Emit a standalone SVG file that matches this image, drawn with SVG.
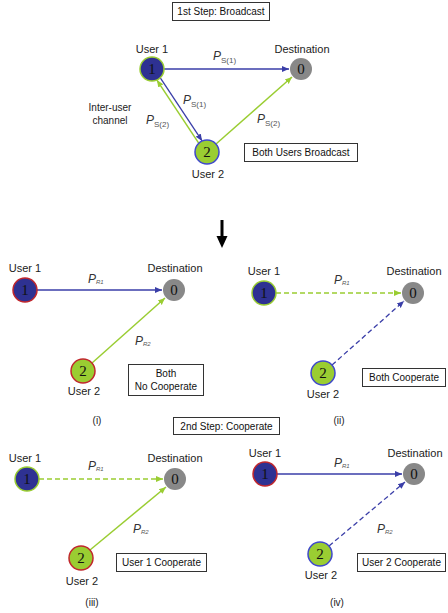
<svg xmlns="http://www.w3.org/2000/svg" width="448" height="613" viewBox="0 0 448 613">
<defs>
<style>
.lbl{font-family:"Liberation Sans",Arial,sans-serif;font-size:11px;fill:#222;text-anchor:middle}
.box{fill:#fff;stroke:#333;stroke-width:1}
.btxt{font-family:"Liberation Sans",Arial,sans-serif;font-size:10px;fill:#111;text-anchor:middle}
.num{font-family:"Liberation Serif","Times New Roman",serif;font-size:15px;fill:#111;text-anchor:middle}
.p{font-family:"Liberation Sans",Arial,sans-serif;font-size:12px;font-style:italic;fill:#333}
.s{font-size:8px;font-style:normal;fill:#555}
.r{font-size:6px;font-style:italic;fill:#555}
.ub{fill:#2e3192}
.ug{fill:#9acd32}
.dst{fill:#888}
.sr{stroke:#c1272d;stroke-width:1.5}
.sg{stroke:#9acd32;stroke-width:1.5}
.sb{stroke:#3f48cc;stroke-width:1.5}
.lb{stroke:#3a3ea8;stroke-width:1.3;fill:none}
.lg{stroke:#9acd32;stroke-width:1.5;fill:none}
.dash{stroke-dasharray:5,3}
</style>
<marker id="ab" viewBox="0 0 8 8" refX="7" refY="4" markerWidth="8" markerHeight="8" markerUnits="userSpaceOnUse" orient="auto"><path d="M0,1 L7,4 L0,7 Z" fill="#3a3ea8"/></marker>
<marker id="ag" viewBox="0 0 8 8" refX="7" refY="4" markerWidth="8" markerHeight="8" markerUnits="userSpaceOnUse" orient="auto"><path d="M0,1 L7,4 L0,7 Z" fill="#9acd32"/></marker>
</defs>
<rect width="448" height="613" fill="#fff"/>

<g id="connectors">
<!-- top -->
<line class="lb" x1="164" y1="69" x2="289" y2="69" marker-end="url(#ab)"/>
<line class="lb" x1="160.3" y1="77.9" x2="202.1" y2="140.9" marker-end="url(#ab)"/>
<line class="lg" x1="198.7" y1="143.1" x2="156.9" y2="80.1" marker-end="url(#ag)"/>
<line class="lg" x1="216" y1="144" x2="292" y2="77" marker-end="url(#ag)"/>
<!-- (i) -->
<line class="lb" x1="37" y1="290" x2="162" y2="290" marker-end="url(#ab)"/>
<line class="lg" x1="92" y1="363" x2="165" y2="298" marker-end="url(#ag)"/>
<!-- (ii) -->
<line class="lg dash" x1="276" y1="293" x2="401" y2="293" marker-end="url(#ag)"/>
<line class="lb dash" x1="332" y1="365" x2="404" y2="301" marker-end="url(#ab)"/>
<!-- (iii) -->
<line class="lg dash" x1="39" y1="479" x2="163" y2="479" marker-end="url(#ag)"/>
<line class="lg" x1="90" y1="550" x2="166" y2="487" marker-end="url(#ag)"/>
<!-- (iv) -->
<line class="lb" x1="277" y1="474" x2="402" y2="474" marker-end="url(#ab)"/>
<line class="lb dash" x1="329" y1="546" x2="405" y2="482" marker-end="url(#ab)"/>
<!-- big arrow -->
<rect x="220.5" y="220" width="3" height="17" fill="#000"/>
<path d="M216.5,236 L227.5,236 L222,248 Z" fill="#000"/>
</g>

<g id="title1"><rect class="box" x="172.5" y="2.5" width="97" height="18"/><text class="btxt" x="221" y="15">1st Step: Broadcast</text></g>
<g id="title2"><rect class="box" x="173.5" y="417.5" width="106" height="17"/><text class="btxt" x="226.5" y="429.5">2nd Step: Cooperate</text></g>

<!-- top nodes -->
<g id="t-u1"><circle class="ub sg" cx="152" cy="69" r="12"/><text class="num" x="152" y="74">1</text><text class="lbl" x="152" y="53">User 1</text></g>
<g id="t-d"><circle class="dst" cx="301" cy="69" r="11"/><text class="num" x="301" y="74">0</text><text class="lbl" x="302" y="53">Destination</text></g>
<g id="t-u2"><circle class="ug sb" cx="207" cy="152" r="12"/><text class="num" x="207" y="157">2</text><text class="lbl" x="208" y="178">User 2</text></g>
<g id="t-labels">
<text class="p" x="213" y="60">P<tspan class="s" dy="3">S(1)</tspan></text>
<text class="p" x="183" y="104">P<tspan class="s" dy="3">S(1)</tspan></text>
<text class="p" x="146" y="124">P<tspan class="s" dy="3">S(2)</tspan></text>
<text class="p" x="257" y="123">P<tspan class="s" dy="3">S(2)</tspan></text>
<text class="lbl" x="110" y="111" style="font-size:10px">Inter-user</text>
<text class="lbl" x="110" y="124" style="font-size:10px">channel</text>
</g>
<g id="t-box"><rect class="box" x="244.5" y="143.5" width="113" height="18"/><text class="btxt" x="301" y="156">Both Users Broadcast</text></g>

<!-- (i) -->
<g id="i-u1"><circle class="ub sr" cx="25" cy="290" r="12"/><text class="num" x="25" y="295">1</text><text class="lbl" x="25" y="272">User 1</text></g>
<g id="i-d"><circle class="dst" cx="174" cy="290" r="11"/><text class="num" x="174" y="295">0</text><text class="lbl" x="175" y="272">Destination</text></g>
<g id="i-u2"><circle class="ug sr" cx="83" cy="371" r="12"/><text class="num" x="83" y="376">2</text><text class="lbl" x="84" y="395">User 2</text></g>
<g id="i-labels">
<text class="p" x="88" y="283">P<tspan class="r" dy="1">R1</tspan></text>
<text class="p" x="135" y="345">P<tspan class="r" dy="1">R2</tspan></text>
<text class="lbl" x="97" y="424" style="font-size:10px">(i)</text>
</g>
<g id="i-box"><rect class="box" x="128.5" y="364.5" width="75" height="31"/><text class="btxt" x="166" y="377">Both</text><text class="btxt" x="166" y="390">No Cooperate</text></g>

<!-- (ii) -->
<g id="ii-u1"><circle class="ub sg" cx="264" cy="293" r="12"/><text class="num" x="264" y="298">1</text><text class="lbl" x="264" y="275">User 1</text></g>
<g id="ii-d"><circle class="dst" cx="413" cy="293" r="11"/><text class="num" x="413" y="298">0</text><text class="lbl" x="414" y="275">Destination</text></g>
<g id="ii-u2"><circle class="ug sb" cx="323" cy="373" r="12"/><text class="num" x="323" y="378">2</text><text class="lbl" x="323" y="398">User 2</text></g>
<g id="ii-labels">
<text class="p" x="334" y="284">P<tspan class="r" dy="1">R1</tspan></text>
<text class="lbl" x="339" y="424" style="font-size:10px">(ii)</text>
</g>
<g id="ii-box"><rect class="box" x="362.5" y="368.5" width="83" height="18"/><text class="btxt" x="404" y="381">Both Cooperate</text></g>

<!-- (iii) -->
<g id="iii-u1"><circle class="ub sg" cx="27" cy="479" r="12"/><text class="num" x="27" y="484">1</text><text class="lbl" x="25" y="462">User 1</text></g>
<g id="iii-d"><circle class="dst" cx="175" cy="479" r="11"/><text class="num" x="175" y="484">0</text><text class="lbl" x="175" y="462">Destination</text></g>
<g id="iii-u2"><circle class="ug sr" cx="81" cy="558" r="12"/><text class="num" x="81" y="563">2</text><text class="lbl" x="82" y="585">User 2</text></g>
<g id="iii-labels">
<text class="p" x="88" y="470">P<tspan class="r" dy="1">R1</tspan></text>
<text class="p" x="133" y="533">P<tspan class="r" dy="1">R2</tspan></text>
<text class="lbl" x="92" y="606" style="font-size:10px">(iii)</text>
</g>
<g id="iii-box"><rect class="box" x="116.5" y="553.5" width="90" height="18"/><text class="btxt" x="161.5" y="566">User 1 Cooperate</text></g>

<!-- (iv) -->
<g id="iv-u1"><circle class="ub sr" cx="265" cy="474" r="12"/><text class="num" x="265" y="479">1</text><text class="lbl" x="265" y="457">User 1</text></g>
<g id="iv-d"><circle class="dst" cx="414" cy="474" r="11"/><text class="num" x="414" y="479">0</text><text class="lbl" x="415" y="457">Destination</text></g>
<g id="iv-u2"><circle class="ug sb" cx="320" cy="554" r="12"/><text class="num" x="320" y="559">2</text><text class="lbl" x="321" y="579">User 2</text></g>
<g id="iv-labels">
<text class="p" x="334" y="467">P<tspan class="r" dy="1">R1</tspan></text>
<text class="p" x="377" y="533">P<tspan class="r" dy="1">R2</tspan></text>
<text class="lbl" x="337" y="606" style="font-size:10px">(iv)</text>
</g>
<g id="iv-box"><rect class="box" x="357.5" y="553.5" width="88" height="18"/><text class="btxt" x="401.5" y="566">User 2 Cooperate</text></g>
</svg>
